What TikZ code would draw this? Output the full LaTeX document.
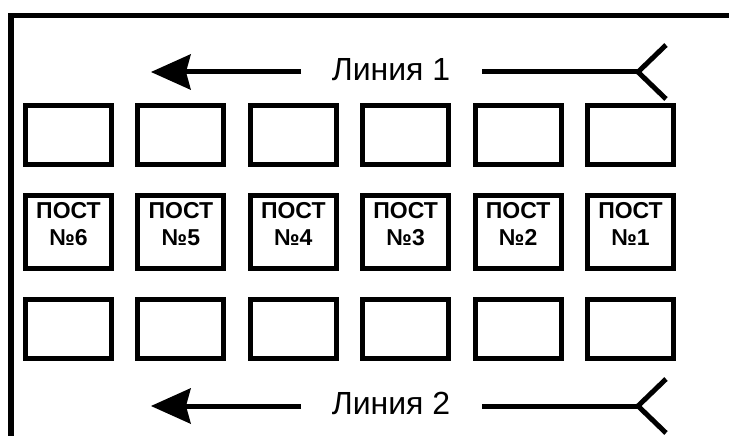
\documentclass[tikz,border=0pt]{standalone}
\usepackage{fontspec}
\setmainfont{Liberation Sans}
\begin{document}
\begin{tikzpicture}[x=1pt,y=-1pt,
  frame/.style={line width=5.5pt, line join=miter},
  cell/.style={draw, line width=5pt, rectangle, inner sep=0pt, minimum width=86pt, minimum height=59pt},
  post/.style={cell, minimum height=73pt},
  posttext/.style={font=\bfseries\fontsize{23}{27}\selectfont, align=center, inner sep=0pt},
  linelabel/.style={font=\fontsize{32}{38}\selectfont, inner sep=0pt, anchor=base},
  flow/.style={line width=5pt},
  tailstyle/.style={line width=5pt, line join=miter}
]
\useasboundingbox (0,0) rectangle (729,436);
\draw[frame] (11,436) -- (11,15.5) -- (729,15.5);
\foreach \i/\n in {0/6,1/5,2/4,3/3,4/2,5/1} {
  \node[cell] (t\n) at (68.5+112.4*\i, 135) {};
  \node[post] (p\n) at (68.5+112.4*\i, 232) {};
  \node[posttext] (pt\n) at (68.5+112.4*\i, 224) {ПОСТ\\№\n};
  \node[cell] (b\n) at (68.5+112.4*\i, 329) {};
}
\foreach \k/\dy in {1/0,2/334} {
  \node[linelabel] (l\k) at (391,80.5+\dy) {Линия \k};
  \coordinate (tip\k) at (151,72+\dy);
  \coordinate (shaft\k) at (186,72+\dy);
  \coordinate (a\k) at (301,72+\dy);
  \coordinate (b\k) at (482,72+\dy);
  \coordinate (v\k) at (638,72+\dy);
  \coordinate (vu\k) at (666,45+\dy);
  \coordinate (vd\k) at (666,99+\dy);
  \draw[flow] (a\k) -- (shaft\k);
  \fill (tip\k) -- ++(40,-18) -- ++(-5,18) -- ++(5,18) -- cycle;
  \draw[flow] (b\k) -- (v\k);
  \draw[tailstyle] (vu\k) -- (v\k) -- (vd\k);
}
\end{tikzpicture}
\end{document}
